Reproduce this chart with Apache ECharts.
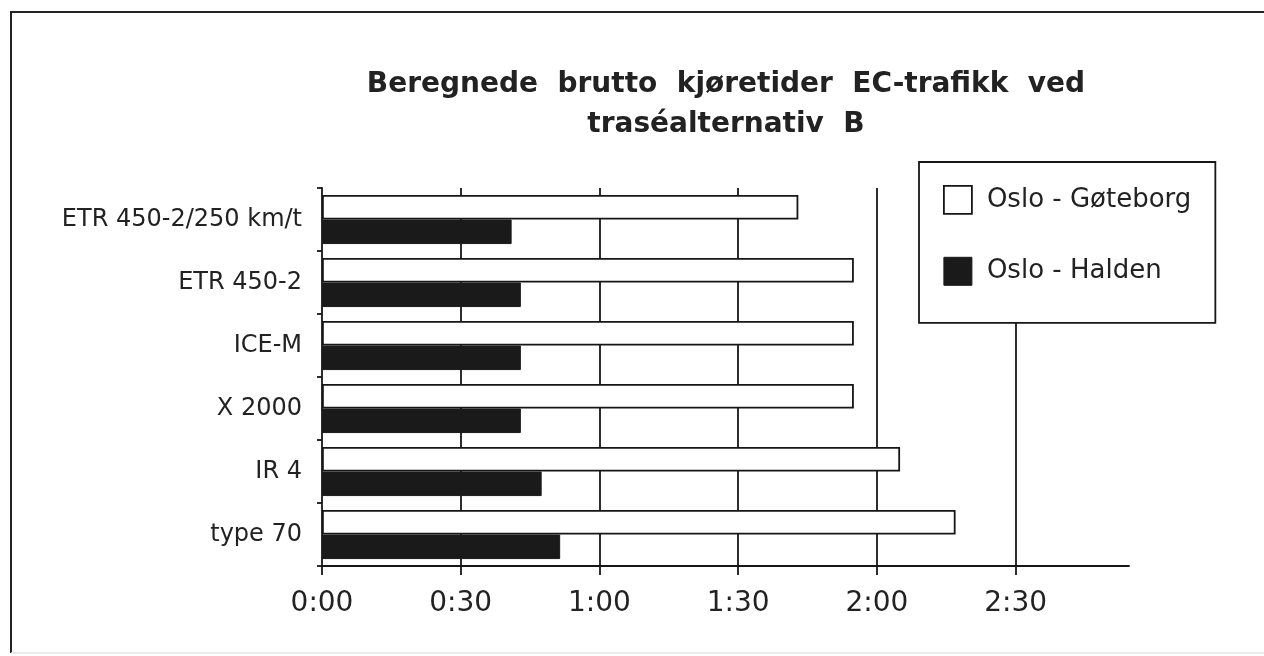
<!DOCTYPE html>
<html>
<head>
<meta charset="utf-8">
<script src="https://cdn.jsdelivr.net/npm/echarts@6/dist/echarts.min.js"></script>
<style>
html,body{margin:0;padding:0;background:#fff;}
#chart{width:1264px;height:656px;}
</style>
</head>
<body>
<div id="chart"></div>
<script>
// Categories (top to bottom)
const categories = ['ETR 450-2/250 km/t', 'ETR 450-2', 'ICE-M', 'X 2000', 'IR 4', 'type 70'];
// Travel times in minutes
const osloGoteborg = [103, 115, 115, 115, 125, 137];
const osloHalden = [41, 43, 43, 43, 47.5, 51.5];
// Axis tick values in minutes
const tickMinutes = [0, 30, 60, 90, 120, 150];
const axisMaxMinutes = 174.5;

function fmt(v) {
  if (Math.abs(v % 30) > 0.001) return '';
  const h = Math.floor(v / 60);
  const m = Math.round(v - h * 60);
  return h + ':' + (m < 10 ? '0' + m : m);
}

const chart = echarts.init(document.getElementById('chart'), null, {renderer: 'canvas'});
const ink = '#161616';
chart.setOption({
  backgroundColor: '#fff',
  animation: false,
  title: {
    text: 'Beregnede  brutto  kjøretider  EC-trafikk  ved\ntraséalternativ  B',
    left: 726,
    top: 65,
    padding: 0,
    textAlign: 'center',
    textStyle: {
      fontFamily: 'DejaVu Sans',
      fontWeight: 'bold',
      fontSize: 28,
      lineHeight: 40,
      color: '#222'
    }
  },
  graphic: [
    {
      type: 'polyline',
      shape: {points: [[11, 653], [11, 12], [1270, 12]]},
      style: {stroke: '#222', lineWidth: 2, fill: null},
      silent: true
    },
    {
      type: 'line',
      shape: {x1: 11, y1: 653, x2: 1270, y2: 653},
      style: {stroke: '#e4e4e4', lineWidth: 1.5},
      silent: true
    }
  ],
  legend: {
    orient: 'vertical',
    left: 919,
    top: 162,
    padding: [23, 24, 37, 24],
    itemWidth: 28,
    itemHeight: 28,
    itemGap: 42,
    icon: 'rect',
    selectedMode: false,
    backgroundColor: '#fff',
    borderColor: ink,
    borderWidth: 1.8,
    textStyle: {
      fontFamily: 'DejaVu Sans',
      fontSize: 26,
      color: '#222',
      padding: [0, 0, 0, 10]
    },
    data: [
      {name: 'Oslo - Gøteborg', itemStyle: {color: '#fff', borderColor: ink, borderWidth: 1.8}},
      {name: 'Oslo - Halden', itemStyle: {color: '#1a1a1a', borderColor: '#1a1a1a', borderWidth: 1}}
    ]
  },
  grid: {
    left: 322,
    right: 135,
    top: 188,
    bottom: 90,
    containLabel: false
  },
  xAxis: {
    type: 'value',
    min: 0,
    max: axisMaxMinutes,
    interval: 30,
    axisLine: {show: true, lineStyle: {color: ink, width: 1.8}},
    axisTick: {show: true, length: 9, customValues: tickMinutes, lineStyle: {color: ink, width: 1.8}},
    axisLabel: {
      customValues: tickMinutes,
      formatter: fmt,
      margin: 24,
      fontFamily: 'DejaVu Sans',
      fontSize: 28,
      color: '#222'
    },
    splitLine: {
      show: true,
      showMinLine: false,
      lineStyle: {color: ink, width: 1.8}
    }
  },
  yAxis: {
    type: 'category',
    inverse: true,
    data: categories,
    axisLine: {show: true, lineStyle: {color: ink, width: 1.8}},
    axisTick: {show: true, length: 5, lineStyle: {color: ink, width: 1.8}},
    axisLabel: {
      margin: 20,
      fontFamily: 'DejaVu Sans',
      fontSize: 24,
      color: '#222'
    },
    splitLine: {show: false}
  },
  series: [
    {
      name: 'Oslo - Gøteborg',
      type: 'bar',
      data: osloGoteborg,
      barGap: '0%',
      barCategoryGap: '22%',
      itemStyle: {color: '#fff', borderColor: ink, borderWidth: 1.8}
    },
    {
      name: 'Oslo - Halden',
      type: 'bar',
      data: osloHalden,
      itemStyle: {color: '#1a1a1a', borderColor: '#1a1a1a', borderWidth: 1}
    }
  ]
});
</script>
</body>
</html>
